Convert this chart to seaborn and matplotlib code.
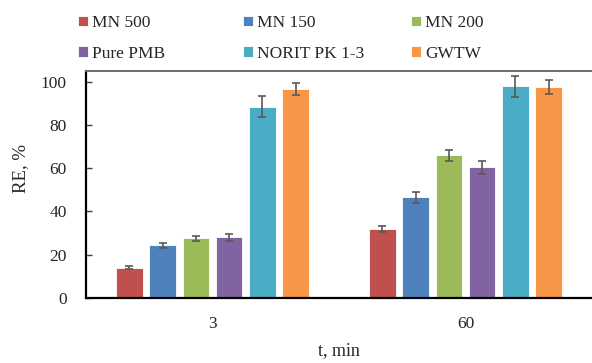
import matplotlib
matplotlib.use("Agg")
import matplotlib.pyplot as plt
import seaborn as sns
import pandas as pd
import numpy as np

times = ["3", "60"]
materials = ["MN 500", "MN 150", "MN 200", "Pure PMB", "NORIT PK 1-3", "GWTW"]
re_3 = [14.0, 24.3, 27.6, 28.0, 88.3, 96.6]
re_60 = [31.9, 46.5, 65.9, 60.3, 97.8, 97.4]
err_3 = [0.8, 1.3, 1.1, 1.6, 4.8, 2.9]
err_60 = [1.4, 2.4, 2.4, 3.2, 4.8, 3.1]
colors = ["#C0504D", "#4F81BD", "#9BBB59", "#8064A2", "#4BACC6", "#F79646"]

rows = []
for t, vals, errs in [(times[0], re_3, err_3), (times[1], re_60, err_60)]:
    for m, v, e in zip(materials, vals, errs):
        rows.append({"t": t, "material": m, "RE": v, "err": e})
df = pd.DataFrame(rows)

sns.set_theme(style="white")
plt.rcParams["font.family"] = ["Liberation Serif", "DejaVu Serif"]
plt.rcParams["font.size"] = 12.5

fig = plt.figure(figsize=(5.92, 3.63), dpi=100)
ax = fig.add_axes([86/592, 1-298/363, 1-86/592, (298-70.7)/363])

sns.barplot(data=df, x="t", y="RE", hue="material", order=times,
            hue_order=materials, palette=colors, errorbar=None,
            width=0.79, gap=0.2, saturation=1, ax=ax,
            edgecolor="white", linewidth=0.6, legend=True)

# error bars at bar centres
for cont, m in zip(ax.containers, materials):
    sub = df[df["material"] == m].set_index("t").loc[times]
    xs = [p.get_x() + p.get_width()/2 for p in cont.patches]
    ax.errorbar(xs, sub["RE"].values, yerr=sub["err"].values, fmt="none",
                ecolor="#595959", elinewidth=1.2, capsize=3.2, capthick=1.2, zorder=5)

ax.set_xlim(-0.5, 1.5)
ax.set_ylim(0, 105)
ax.set_yticks([0, 20, 40, 60, 80, 100])
ax.set_xlabel("t, min", fontsize=13, labelpad=7)
ax.set_ylabel("RE, %", fontsize=13.5)
ax.yaxis.set_label_coords(-0.113, 0.569)
ax.tick_params(axis="y", direction="in", length=4, width=1, color="#404040",
               labelsize=12.5, pad=14, left=True)
ax.tick_params(axis="x", length=0, labelsize=12.5, pad=13)
for s in ["left", "bottom"]:
    ax.spines[s].set_color("black")
    ax.spines[s].set_linewidth(1.6)
ax.spines["top"].set_color("#6d6d6d")
ax.spines["top"].set_linewidth(1.4)
ax.spines["right"].set_visible(False)

handles, labels = ax.get_legend_handles_labels()
ax.get_legend().remove()
col_x = [78/592, 243/592, 411/592]
for c in range(3):
    idx = [c, c + 3]
    fig.legend([handles[i] for i in idx], [labels[i] for i in idx],
               loc="upper left", bbox_to_anchor=(col_x[c], 0.958),
               frameon=False, borderpad=0, borderaxespad=0,
               handlelength=0.56, handleheight=0.56, handletextpad=0.25,
               labelspacing=0.83, fontsize=12.5)

fig.savefig("out.png", dpi=100)
